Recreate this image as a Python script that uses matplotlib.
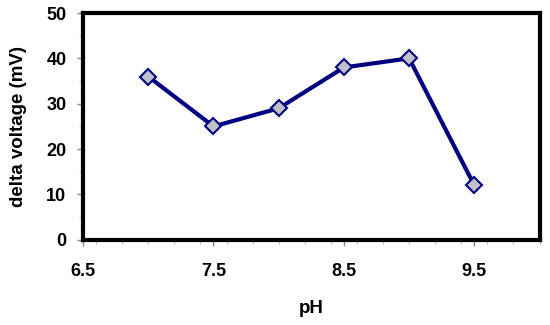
# delta voltage vs pH
import matplotlib.pyplot as plt
from matplotlib.ticker import MultipleLocator

ph = [7.0, 7.5, 8.0, 8.5, 9.0, 9.5]
delta_v = [36, 25, 29, 38, 40, 12]
x_ticks = [6.5, 7.5, 8.5, 9.5]

plt.rcParams['font.family'] = ['Liberation Sans', 'DejaVu Sans']
plt.rcParams['font.weight'] = 'bold'

fig = plt.figure(figsize=(5.5, 3.25), dpi=100)
ax = fig.add_axes([0.151, 0.262, 0.830, 0.698])

ax.plot(ph, delta_v, color='#000080', linewidth=3, marker='D', markersize=8,
        markerfacecolor='#c0c0c8', markeredgecolor='#000080', markeredgewidth=1.5)

ax.set_xlim(6.5, 10)
ax.set_ylim(0, 50)
ax.set_xticks(x_ticks)
ax.xaxis.set_minor_locator(MultipleLocator(0.2))
ax.yaxis.set_major_locator(MultipleLocator(10))
ax.yaxis.set_minor_locator(MultipleLocator(5))

for s in ax.spines.values():
    s.set_linewidth(3)
ax.tick_params(which='major', direction='out', length=4, width=1, color='#888888',
               labelsize=13, pad=8)
ax.tick_params(axis='x', which='major', pad=13)
ax.tick_params(which='minor', direction='out', length=3, width=0.8, color='#bbbbbb')

ax.set_xlabel('pH', fontsize=13.5, fontweight='bold', labelpad=14)
ax.set_ylabel('delta voltage (mV)', fontsize=13.5, fontweight='bold', labelpad=14)

plt.savefig('out.png', dpi=100)
